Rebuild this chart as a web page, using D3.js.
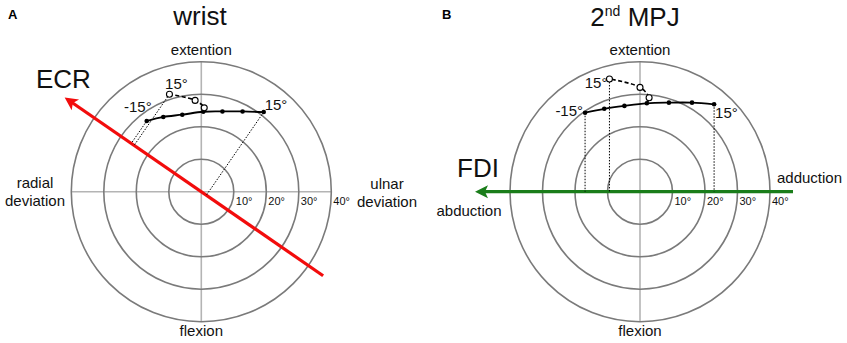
<!DOCTYPE html>
<html><head><meta charset="utf-8">
<script src="https://cdn.jsdelivr.net/npm/d3@7"></script>
<style>
html,body{margin:0;padding:0;background:#fff;}
svg{display:block;font-family:"Liberation Sans",Arial,Helvetica,sans-serif;}
</style></head>
<body>
<svg id="chart" width="847" height="343"></svg>
<script>
// ---------- data ----------
const ringTicks = [10, 20, 30, 40];
const ringTickLabels = ["10°", "20°", "30°", "40°"];
const panelTitles = ["wrist", "MPJ"];
const panelLetters = ["A", "B"];
const muscleNames = ["ECR", "FDI"];
const muscleAngles = [145.4, 180]; // direction of the muscle pulling axis (deg, from +x, ccw)

// wrist: [radial(-)/ulnar(+) deviation, flexion(-)/extension(+)] in degrees
const wristSolid = [[-16.8, 21.75], [-11.7, 23.0], [-5.85, 23.7], [0.6, 24.6], [6.5, 24.7], [12.7, 24.7], [19.2, 24.5]];
const wristDashed = [[0.6, 24.6], [0.9, 25.8], [-1.9, 28.1], [-9.8, 30.0]];
// 2nd MPJ: [abduction(-)/adduction(+), flexion(-)/extension(+)]
const mpjSolid = [[-16.9, 24.3], [-11.0, 25.5], [-4.8, 26.4], [2.1, 27.2], [8.9, 27.4], [16.0, 27.4], [22.8, 26.9]];
const mpjDashed = [[2.1, 27.2], [2.8, 28.9], [0, 32.1], [-9.4, 34.7]];
const endLabels = ["-15°", "15°", "15°"];

// ---------- drawing ----------
const svg = d3.select("#chart");
const R = 130;
const rScale = d3.scaleLinear().domain([0, 40]).range([0, R]);

function panel(cx, cy, opt) {
  const g = svg.append("g");
  const x = d3.scaleLinear().domain([-40, 40]).range([cx - R, cx + R]);
  const y = d3.scaleLinear().domain([-40, 40]).range([cy + R, cy - R]);

  // axes
  g.append("line").attr("x1", x(-40)).attr("x2", x(40)).attr("y1", y(0)).attr("y2", y(0))
    .attr("stroke", "#b4b4b4").attr("stroke-width", 1.6);
  g.append("line").attr("x1", x(0)).attr("x2", x(0)).attr("y1", y(-40)).attr("y2", y(40))
    .attr("stroke", "#b4b4b4").attr("stroke-width", 1.6);
  // rings
  g.selectAll("circle.ring").data(ringTicks).join("circle").attr("class", "ring")
    .attr("cx", cx).attr("cy", cy).attr("r", d => rScale(d))
    .attr("fill", "none").attr("stroke", "#7a7a7a").attr("stroke-width", 1.6);

  // muscle axis arrow
  const a = opt.angle * Math.PI / 180;
  const ux = Math.cos(a), uy = -Math.sin(a); // screen direction
  const tx = cx - ux * opt.tail, ty = cy - uy * opt.tail;
  const hx = cx + ux * opt.head, hy = cy + uy * opt.head;
  const hl = 13, hw = 6.5, notch = 3;
  const bx = hx - ux * hl, by = hy - uy * hl;
  g.append("line").attr("x1", tx).attr("y1", ty).attr("x2", hx - ux * 8).attr("y2", hy - uy * 8)
    .attr("stroke", opt.color).attr("stroke-width", 3.2);
  g.append("path").attr("fill", opt.color)
    .attr("d", `M${hx},${hy} L${bx - uy * hw},${by + ux * hw} L${hx - ux * (hl - notch)},${hy - uy * (hl - notch)} L${bx + uy * hw},${by - ux * hw} Z`);

  // ring tick labels
  g.selectAll("text.tick").data(ringTicks).join("text").attr("class", "tick")
    .attr("x", d => x(d) + 2).attr("y", cy + 13)
    .attr("font-size", 11).attr("fill", "#111").text((d, i) => ringTickLabels[i]);

  // projections (dotted)
  const proj = p => {
    const px = x(p[0]) - cx, py = y(p[1]) - cy;
    const t = px * ux + py * uy;
    return [cx + t * ux, cy + t * uy];
  };
  const ends = [opt.solid[0], opt.solid[opt.solid.length - 1], opt.dashed[opt.dashed.length - 1]];
  g.selectAll("line.proj").data(ends).join("line").attr("class", "proj")
    .attr("x1", d => x(d[0])).attr("y1", d => y(d[1]))
    .attr("x2", d => proj(d)[0]).attr("y2", d => proj(d)[1])
    .attr("stroke", "#000").attr("stroke-width", 1).attr("stroke-dasharray", "1.5,1.5");

  const line = d3.line().x(d => x(d[0])).y(d => y(d[1])).curve(d3.curveCatmullRom);
  g.append("path").attr("d", line(opt.dashed)).attr("fill", "none")
    .attr("stroke", "#000").attr("stroke-width", 1.6).attr("stroke-dasharray", "4,2.5");
  g.append("path").attr("d", line(opt.solid)).attr("fill", "none")
    .attr("stroke", "#000").attr("stroke-width", 1.8);
  g.selectAll("circle.pt").data(opt.solid).join("circle").attr("class", "pt")
    .attr("cx", d => x(d[0])).attr("cy", d => y(d[1])).attr("r", 2.3).attr("fill", "#000");
  g.selectAll("circle.op").data(opt.dashed.slice(1)).join("circle").attr("class", "op")
    .attr("cx", d => x(d[0])).attr("cy", d => y(d[1])).attr("r", 3)
    .attr("fill", "#fff").attr("stroke", "#000").attr("stroke-width", 1.1);

  // end labels
  ends.forEach((p, i) => {
    const o = opt.labelOff[i];
    g.append("text").attr("x", x(p[0]) + o[0]).attr("y", y(p[1]) + o[1])
      .attr("text-anchor", o[2]).attr("font-size", 15).attr("fill", "#111").text(endLabels[i]);
  });

  // direction labels
  g.append("text").attr("x", cx).attr("y", 55).attr("text-anchor", "middle")
    .attr("font-size", 15).attr("fill", "#111").text("extention");
  g.append("text").attr("x", cx).attr("y", 336).attr("text-anchor", "middle")
    .attr("font-size", 15).attr("fill", "#111").text("flexion");
  return g;
}

// Panel A
const gA = panel(201.3, 191.7, {
  angle: muscleAngles[0], tail: 148, head: 166, color: "#f20c0c",
  solid: wristSolid, dashed: wristDashed,
  labelOff: [[5, -9, "end"], [1, -2, "start"], [7, -5, "middle"]]
});
gA.append("text").attr("x", 8).attr("y", 19).attr("font-size", 13).attr("font-weight", "bold").text(panelLetters[0]);
gA.append("text").attr("x", 200).attr("y", 25).attr("text-anchor", "middle").attr("font-size", 26).attr("fill", "#111").text(panelTitles[0]);
gA.append("text").attr("x", 36).attr("y", 88).attr("font-size", 26).attr("fill", "#111").text(muscleNames[0]);
gA.append("text").attr("x", 35).attr("y", 188).attr("text-anchor", "middle").attr("font-size", 15).attr("fill", "#111").text("radial");
gA.append("text").attr("x", 35).attr("y", 206).attr("text-anchor", "middle").attr("font-size", 15).attr("fill", "#111").text("deviation");
gA.append("text").attr("x", 387).attr("y", 189).attr("text-anchor", "middle").attr("font-size", 15).attr("fill", "#111").text("ulnar");
gA.append("text").attr("x", 387).attr("y", 206.5).attr("text-anchor", "middle").attr("font-size", 15).attr("fill", "#111").text("deviation");

// Panel B
const gB = panel(640, 191.7, {
  angle: muscleAngles[1], tail: 153, head: 165, color: "#1a7d1a",
  solid: mpjSolid, dashed: mpjDashed,
  labelOff: [[-2, 3, "end"], [1, 14, "start"], [-2, 9, "end"]]
});
gB.append("text").attr("x", 442).attr("y", 19).attr("font-size", 13).attr("font-weight", "bold").text(panelLetters[1]);
const tB = gB.append("text").attr("x", 635).attr("y", 26).attr("text-anchor", "middle").attr("font-size", 26).attr("fill", "#111");
tB.append("tspan").text("2");
tB.append("tspan").attr("font-size", 14).attr("dy", -10).text("nd");
tB.append("tspan").attr("dy", 10).text(" " + panelTitles[1]);
gB.append("text").attr("x", 457).attr("y", 177).attr("font-size", 26).attr("fill", "#111").text(muscleNames[1]);
gB.append("text").attr("x", 777).attr("y", 183).attr("font-size", 15).attr("fill", "#111").text("adduction");
gB.append("text").attr("x", 469).attr("y", 216).attr("text-anchor", "middle").attr("font-size", 15).attr("fill", "#111").text("abduction");
</script>
</body></html>
